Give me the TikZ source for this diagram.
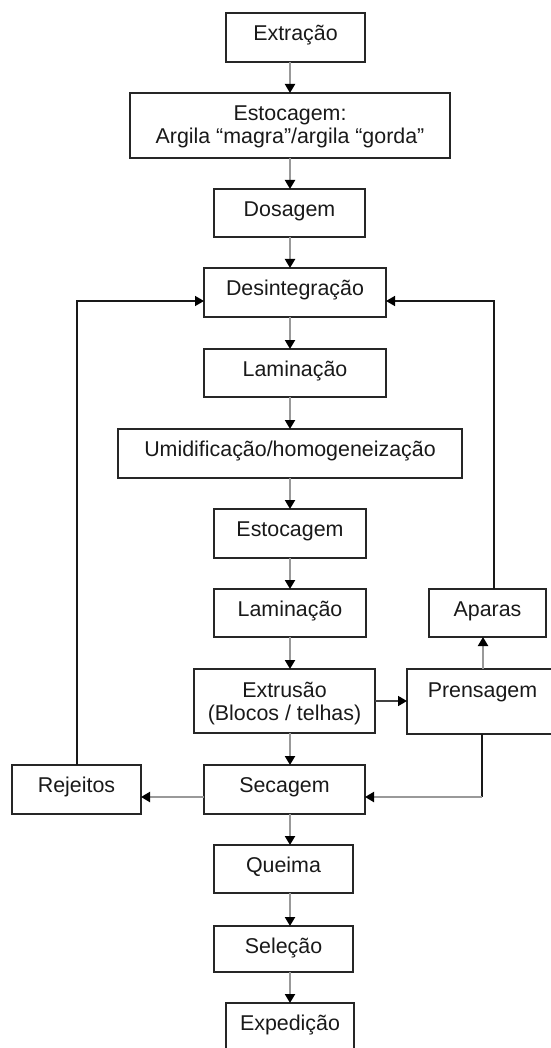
\documentclass[tikz,border=0pt]{standalone}
\usepackage{fontspec}
\setmainfont{Liberation Sans}
\usetikzlibrary{arrows.meta}
\begin{document}
\begin{tikzpicture}[x=1pt,y=-1pt,
  box/.style={draw=black!85, line width=1.4pt, rectangle, inner sep=0pt, outer sep=0pt},
  txt/.style={font={\fontsize{21.4}{22.5}\selectfont}, inner sep=0pt, align=center, anchor=base, text=black!90},
  flow/.style={draw=black!40, line width=2pt, -{Triangle[black,length=9pt,width=10pt]}},
  darkflow/.style={draw=black!75, line width=1.6pt, -{Triangle[black,length=9pt,width=10pt]}},
  loopln/.style={draw=black!90, line width=1.4pt, -{Triangle[black,length=9pt,width=10pt]}},
  plain/.style={draw=black!90, line width=1.4pt},
]
\useasboundingbox (0,0) rectangle (550,1048);

% boxes
\node[box, minimum width=139, minimum height=49] (ext)  at (295.5,37.5) {};
\node[box, minimum width=320, minimum height=65] (sto1) at (290,125.5) {};
\node[box, minimum width=151, minimum height=48] (dos)  at (289.5,213) {};
\node[box, minimum width=182, minimum height=49] (des)  at (295,292.5) {};
\node[box, minimum width=182, minimum height=48] (lam1) at (295,373) {};
\node[box, minimum width=344, minimum height=49] (umi)  at (290,453.5) {};
\node[box, minimum width=152, minimum height=49] (sto2) at (290,533.5) {};
\node[box, minimum width=152, minimum height=48] (lam2) at (290,613) {};
\node[box, minimum width=117, minimum height=48] (apa)  at (487.5,613) {};
\node[box, minimum width=181, minimum height=64] (extr) at (284.5,701) {};
\node[box, minimum width=151, minimum height=65] (pren) at (482.5,701.5) {};
\node[box, minimum width=129, minimum height=49] (rej)  at (76.5,789.5) {};
\node[box, minimum width=161, minimum height=49] (sec)  at (284.5,789.5) {};
\node[box, minimum width=139, minimum height=48] (que)  at (283.5,869) {};
\node[box, minimum width=139, minimum height=46] (sel)  at (283.5,949) {};
\node[box, minimum width=128, minimum height=49] (exp)  at (290,1027.5) {};

% texts
\node[txt] (ext-t)  at ([yshift=-27.5pt]ext.north)  {Extração};
\node[txt] (sto1-t) at ([yshift=-50.5pt]sto1.north) {Estocagem:\\Argila “magra”/argila “gorda”};
\node[txt] (dos-t)  at ([yshift=-27.5pt]dos.north)  {Dosagem};
\node[txt] (des-t)  at ([yshift=-27.5pt]des.north)  {Desintegração};
\node[txt] (lam1-t) at ([yshift=-27.5pt]lam1.north) {Laminação};
\node[txt] (umi-t)  at ([yshift=-27.5pt]umi.north)  {Umidificação/homogeneização};
\node[txt] (sto2-t) at ([yshift=-27.5pt]sto2.north) {Estocagem};
\node[txt] (lam2-t) at ([yshift=-27.5pt]lam2.north) {Laminação};
\node[txt] (apa-t)  at ([yshift=-27.5pt]apa.north)  {Aparas};
\node[txt] (extr-t) at ([yshift=-51pt]extr.north) {Extrusão\\(Blocos / telhas)};
\node[txt] (pren-t) at ([yshift=-28pt]pren.north) {Prensagem};
\node[txt] (rej-t)  at ([yshift=-27pt]rej.north)  {Rejeitos};
\node[txt] (sec-t)  at ([yshift=-27pt]sec.north)  {Secagem};
\node[txt] (que-t)  at ([yshift=-27pt]que.north)  {Queima};
\node[txt] (sel-t)  at ([yshift=-27pt]sel.north)  {Seleção};
\node[txt] (exp-t)  at ([yshift=-27pt]exp.north)  {Expedição};

% helper coordinates
\coordinate (mx) at (290,0);
\coordinate (lx) at (77,0);
\coordinate (rx) at (494,0);
\coordinate (ly) at (0,301);
\coordinate (px) at (483,0);
\coordinate (ey) at (0,701);
\coordinate (sy) at (0,797);
\coordinate (c1) at (482,797);

% main flow
\draw[flow] (ext.south -| mx)  -- (sto1.north -| mx);
\draw[flow] (sto1.south -| mx) -- (dos.north -| mx);
\draw[flow] (dos.south -| mx)  -- (des.north -| mx);
\draw[flow] (des.south -| mx)  -- (lam1.north -| mx);
\draw[flow] (lam1.south -| mx) -- (umi.north -| mx);
\draw[flow] (umi.south -| mx)  -- (sto2.north -| mx);
\draw[flow] (sto2.south -| mx) -- (lam2.north -| mx);
\draw[flow] (lam2.south -| mx) -- (extr.north -| mx);
\draw[flow] (extr.south -| mx) -- (sec.north -| mx);
\draw[flow] (sec.south -| mx)  -- (que.north -| mx);
\draw[flow] (que.south -| mx)  -- (sel.north -| mx);
\draw[flow] (sel.south -| mx)  -- (exp.north -| mx);

% side branches
\draw[darkflow] (extr.east |- ey) -- (pren.west |- ey);
\draw[flow] (pren.north -| px) -- (apa.south -| px);
\draw[loopln] (apa.north -| rx) |- (des.east |- ly);
\draw[loopln] (rej.north -| lx) |- (des.west |- ly);
\draw[plain] (pren.south -| c1) -- (c1);
\draw[flow] (c1) -- (sec.east |- c1);
\draw[flow] (sec.west |- sy) -- (rej.east |- sy);
\end{tikzpicture}
\end{document}
